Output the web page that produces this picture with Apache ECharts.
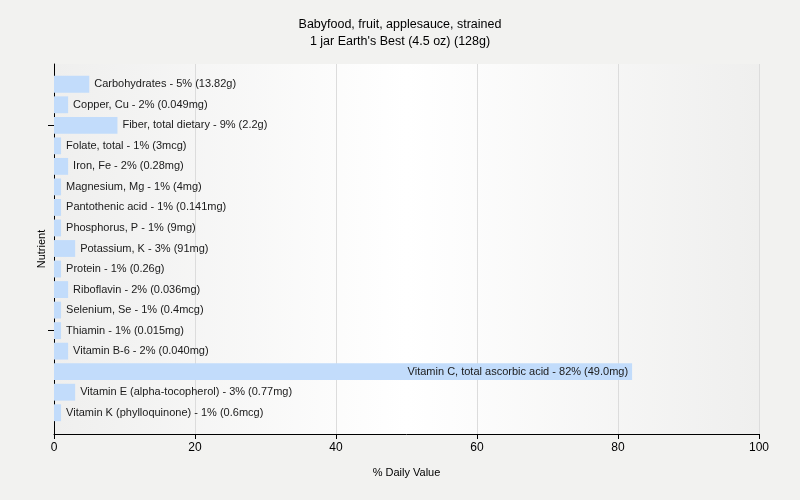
<!DOCTYPE html>
<html><head><meta charset="utf-8">
<script src="https://cdn.jsdelivr.net/npm/echarts@6/dist/echarts.min.js"></script>
<style>html,body{margin:0;padding:0;background:#f2f2f0}#c{width:800px;height:500px}</style>
</head><body><div id="c"></div>
<script>
const categories = ["Carbohydrates","Copper, Cu","Fiber, total dietary","Folate, total","Iron, Fe","Magnesium, Mg","Pantothenic acid","Phosphorus, P","Potassium, K","Protein","Riboflavin","Selenium, Se","Thiamin","Vitamin B-6","Vitamin C, total ascorbic acid","Vitamin E (alpha-tocopherol)","Vitamin K (phylloquinone)"];
const values = [5,2,9,1,2,1,1,1,3,1,2,1,1,2,82,3,1];
const amounts = ["13.82g","0.049mg","2.2g","3mcg","0.28mg","4mg","0.141mg","9mg","91mg","0.26g","0.036mg","0.4mcg","0.015mg","0.040mg","49.0mg","0.77mg","0.6mcg"];
const xTicks = [0,20,40,60,80,100];
const title = "Babyfood, fruit, applesauce, strained\n1 jar Earth's Best (4.5 oz) (128g)";

const font = "'Liberation Sans', Arial, sans-serif";
const chart = echarts.init(document.getElementById('c'));
chart.setOption({
  backgroundColor: '#f2f2f0',
  animation: false,
  title: {text: title, left: 'center', top: 11, textStyle: {fontFamily: font, fontSize: 12.5, fontWeight: 'normal', color: '#000', lineHeight: 17}},
  grid: [
    {left: 54, right: 41, top: 64, bottom: 66, show: true, borderWidth: 0,
     backgroundColor: new echarts.graphic.LinearGradient(0,0,1,0,[{offset:0,color:'#efefee'},{offset:0.5,color:'#ffffff'},{offset:1,color:'#efefee'}])},
    {left: 54, right: 41, top: 74, bottom: 77}
  ],
  xAxis: [
    {gridIndex: 0, type: 'value', min: xTicks[0], max: xTicks[xTicks.length-1], interval: 20,
     name: '% Daily Value', nameLocation: 'middle', nameGap: 33, nameTextStyle: {fontFamily: font, fontSize: 11, color: '#000'},
     axisLine: {show: true, lineStyle: {color: '#000'}}, axisTick: {show: true, length: 5, lineStyle: {color: '#000'}},
     axisLabel: {fontFamily: font, fontSize: 12, color: '#000', margin: 8},
     splitLine: {show: true, lineStyle: {color: '#dcdcdc'}}},
    {gridIndex: 1, type: 'value', min: 0, max: 100, show: false}
  ],
  yAxis: [
    {gridIndex: 0, type: 'category', data: categories, inverse: true,
     name: 'Nutrient', nameLocation: 'middle', nameGap: 7, nameRotate: 90, nameTextStyle: {fontFamily: font, fontSize: 11, color: '#000'},
     axisLine: {show: true, lineStyle: {color: '#000'}},
     axisTick: {show: false}, axisLabel: {show: false}, splitLine: {show: false}},
    {gridIndex: 1, type: 'category', data: categories, inverse: true,
     axisLine: {show: false},
     axisTick: {show: true, length: 6, alignWithLabel: true, interval: (i) => i === 2 || i === 12, lineStyle: {color: '#000'}},
     axisLabel: {show: false}, splitLine: {show: false}}
  ],
  series: [{
    type: 'bar', xAxisIndex: 1, yAxisIndex: 1,
    data: values.map((v, i) => ({value: v, label: v > 50 ? {position: 'insideRight', distance: 4} : {}})),
    barCategoryGap: '18%',
    itemStyle: {color: '#c2dcfb'},
    label: {show: true, position: 'right', distance: 5, fontFamily: font, fontSize: 11, color: '#1a1a1a',
      formatter: (p) => categories[p.dataIndex] + ' - ' + values[p.dataIndex] + '% (' + amounts[p.dataIndex] + ')'}
  }]
});
</script></body></html>
